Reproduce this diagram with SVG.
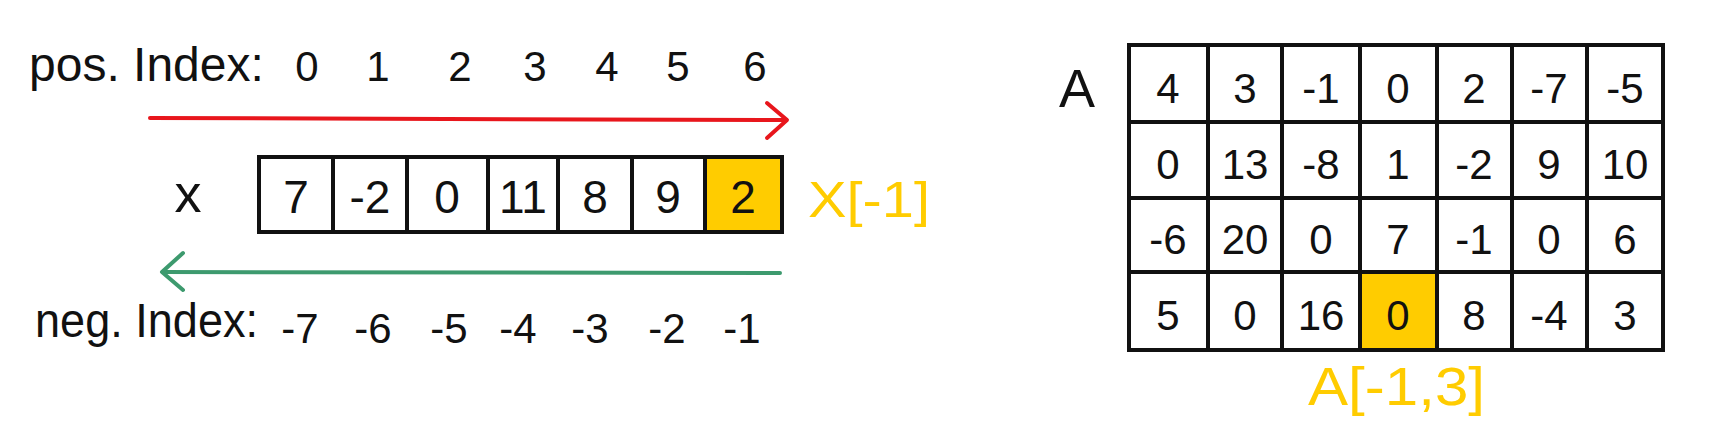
<svg xmlns="http://www.w3.org/2000/svg" width="1711" height="431" viewBox="0 0 1711 431">
<style>
.t{font-family:"Liberation Sans",Arial,sans-serif;fill:#111}
.lbl{font-size:48px}
.idx{font-size:42px;text-anchor:middle}
.cell{font-size:46px;text-anchor:middle}
.mcell{font-size:42px;text-anchor:middle}
.hl{font-family:"Liberation Sans",Arial,sans-serif;fill:#FFCC00}
.grid{fill:#fff;stroke:#111;stroke-width:4}
.yel{fill:#FFCC00;stroke:#111;stroke-width:4}
.red{stroke:#E8161C;stroke-width:4;fill:none;stroke-linecap:round;stroke-linejoin:round}
.grn{stroke:#3D9A6E;stroke-width:4;fill:none;stroke-linecap:round;stroke-linejoin:round}
</style>
<rect width="1711" height="431" fill="#fff"/>

<g id="pos-index">
<text class="t lbl" x="29" y="81">pos. Index:</text>
<text class="t idx" x="307" y="81">0</text>
<text class="t idx" x="378" y="81">1</text>
<text class="t idx" x="460" y="81">2</text>
<text class="t idx" x="535" y="81">3</text>
<text class="t idx" x="607" y="81">4</text>
<text class="t idx" x="678" y="81">5</text>
<text class="t idx" x="755" y="81">6</text>
</g>

<g id="connectors">
<line class="red" x1="150" y1="118" x2="786" y2="120"/>
<polyline class="red" points="767,103 787,120 767,138"/>
<line class="grn" x1="780" y1="273" x2="163" y2="272"/>
<polyline class="grn" points="183,253 162,272 183,290"/>
</g>

<g id="array-x">
<text class="t" x="188" y="212" font-size="54" text-anchor="middle">x</text>
<rect class="grid" x="259" y="157" width="74" height="75"/>
<rect class="grid" x="333" y="157" width="74" height="75"/>
<rect class="grid" x="407" y="157" width="81" height="75"/>
<rect class="grid" x="488" y="157" width="70" height="75"/>
<rect class="grid" x="558" y="157" width="74" height="75"/>
<rect class="grid" x="632" y="157" width="73" height="75"/>
<rect class="yel" x="705" y="157" width="77" height="75"/>
<text class="t cell" x="296" y="213">7</text>
<text class="t cell" x="370" y="213">-2</text>
<text class="t cell" x="447" y="213">0</text>
<text class="t cell" x="523" y="213">11</text>
<text class="t cell" x="595" y="213">8</text>
<text class="t cell" x="668" y="213">9</text>
<text class="t cell" x="743" y="213">2</text>
</g>

<g id="label-x-1">
<text class="hl" x="808" y="217" font-size="50" textLength="122" lengthAdjust="spacingAndGlyphs">X[-1]</text>
</g>

<g id="neg-index">
<text class="t lbl" x="35" y="337" textLength="223" lengthAdjust="spacingAndGlyphs">neg. Index:</text>
<text class="t idx" x="300" y="343">-7</text>
<text class="t idx" x="373" y="343">-6</text>
<text class="t idx" x="449" y="343">-5</text>
<text class="t idx" x="518" y="343">-4</text>
<text class="t idx" x="590" y="343">-3</text>
<text class="t idx" x="667" y="343">-2</text>
<text class="t idx" x="742" y="343">-1</text>
</g>

<g id="matrix-a">
<text class="t" x="1077" y="107" font-size="54" text-anchor="middle">A</text>
<rect x="1129" y="45" width="534" height="305" fill="#fff"/>
<rect x="1360" y="272" width="77" height="78" fill="#FFCC00"/>
<g stroke="#111" stroke-width="4" stroke-linecap="square">
<line x1="1129" y1="45" x2="1663" y2="45"/>
<line x1="1129" y1="122" x2="1663" y2="122"/>
<line x1="1129" y1="198" x2="1663" y2="198"/>
<line x1="1129" y1="272" x2="1663" y2="272"/>
<line x1="1129" y1="350" x2="1663" y2="350"/>
<line x1="1129" y1="45" x2="1129" y2="350"/>
<line x1="1208" y1="45" x2="1208" y2="350"/>
<line x1="1282" y1="45" x2="1282" y2="350"/>
<line x1="1360" y1="45" x2="1360" y2="350"/>
<line x1="1437" y1="45" x2="1437" y2="350"/>
<line x1="1512" y1="45" x2="1512" y2="350"/>
<line x1="1587" y1="45" x2="1587" y2="350"/>
<line x1="1663" y1="45" x2="1663" y2="350"/>
</g>
<g class="t mcell">
<text x="1168" y="103">4</text><text x="1245" y="103">3</text><text x="1321" y="103">-1</text><text x="1398" y="103">0</text><text x="1474" y="103">2</text><text x="1549" y="103">-7</text><text x="1625" y="103">-5</text>
<text x="1168" y="179">0</text><text x="1245" y="179">13</text><text x="1321" y="179">-8</text><text x="1398" y="179">1</text><text x="1474" y="179">-2</text><text x="1549" y="179">9</text><text x="1625" y="179">10</text>
<text x="1168" y="254">-6</text><text x="1245" y="254">20</text><text x="1321" y="254">0</text><text x="1398" y="254">7</text><text x="1474" y="254">-1</text><text x="1549" y="254">0</text><text x="1625" y="254">6</text>
<text x="1168" y="330">5</text><text x="1245" y="330">0</text><text x="1321" y="330">16</text><text x="1398" y="330">0</text><text x="1474" y="330">8</text><text x="1549" y="330">-4</text><text x="1625" y="330">3</text>
</g>
</g>

<g id="label-a-1-3">
<text class="hl" x="1308" y="405" font-size="54" textLength="177" lengthAdjust="spacingAndGlyphs">A[-1,3]</text>
</g>
</svg>
